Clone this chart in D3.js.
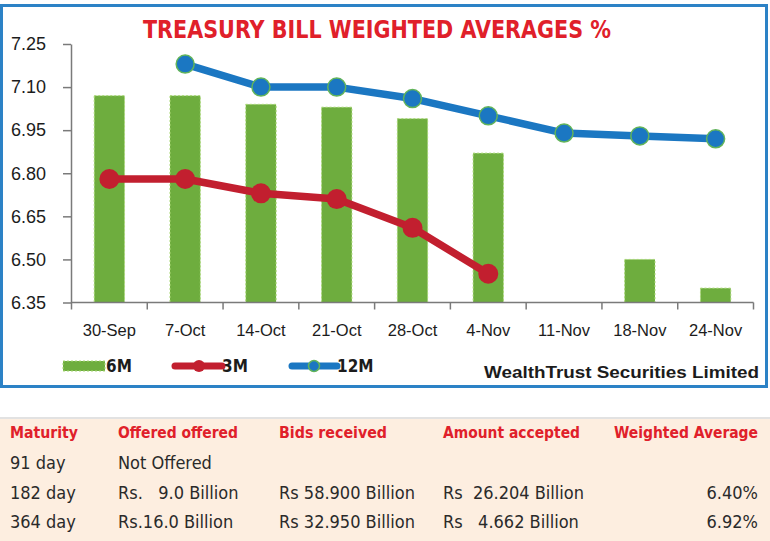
<!DOCTYPE html>
<html>
<head>
<meta charset="utf-8">
<script src="https://cdn.jsdelivr.net/npm/d3@7"></script>
<style>
  html, body { margin: 0; padding: 0; background: #fff; }
  svg { display: block; }
  text { white-space: pre; }
</style>
</head>
<body>
<svg id="chart" width="770" height="541"></svg>
<script>
// ---------- DATA ----------
const categories = ["30-Sep", "7-Oct", "14-Oct", "21-Oct", "28-Oct", "4-Nov", "11-Nov", "18-Nov", "24-Nov"];
const bills6M  = [7.07, 7.07, 7.04, 7.03, 6.99, 6.87, null, 6.50, 6.40];
const bills3M  = [6.78, 6.78, 6.73, 6.71, 6.61, 6.45, null, null, null];
const bills12M = [null, 7.18, 7.10, 7.10, 7.06, 7.00, 6.94, 6.93, 6.92];
const yTicks = [6.35, 6.50, 6.65, 6.80, 6.95, 7.10, 7.25];
const seriesNames = ["6M", "3M", "12M"];
const chartTitle = "TREASURY BILL WEIGHTED AVERAGES %";
const sourceText = "WealthTrust Securities Limited";

const tableHeader = ["Maturity", "Offered offered", "Bids received", "Amount accepted", "Weighted Average"];
const tableMaturity = ["91 day", "182 day", "364 day"];
const tableOffered  = ["Not Offered", "Rs.\u00A0\u00A0\u00A09.0 Billion", "Rs.16.0 Billion"];
const tableBids     = ["", "Rs 58.900 Billion", "Rs 32.950 Billion"];
const tableAccepted = ["", "Rs\u00A0\u00A026.204 Billion", "Rs\u00A0\u00A0\u00A04.662 Billion"];
const tableWeighted = ["", "6.40%", "6.92%"];

// ---------- STYLE ----------
const C = {
  green: "#6ead3e", greenEdge: "#a8d874",
  red: "#c21f2f", blue: "#1b77c2", blueEdge: "#62b45a",
  axis: "#7a7a7a", text: "#1c1c1c", frame: "#2c82c6",
  title: "#e0202a", peach: "#fdeee0"
};
const narrow = "'Liberation Sans Narrow', 'DejaVu Sans Condensed', 'Liberation Sans', Arial, sans-serif";
const sans = "'Liberation Sans', Arial, sans-serif";

const svg = d3.select("#chart");

// frame
svg.append("rect").attr("x", 1.5).attr("y", 5.5).attr("width", 765).attr("height", 381)
  .attr("fill", "#fff").attr("stroke", C.frame).attr("stroke-width", 3);

// scales
const x = d3.scaleBand().domain(categories).range([71.5, 753.5]).paddingInner(0.6).paddingOuter(0.3);
const y = d3.scaleLinear().domain([6.35, 7.25]).range([302.5, 44]);
const cx = d => x(d) + x.bandwidth() / 2;

// title
svg.append("text").attr("x", 377).attr("y", 38).attr("text-anchor", "middle")
  .attr("font-family", narrow).attr("font-weight", "bold").attr("font-size", 25)
  .attr("fill", C.title).attr("textLength", 468).attr("lengthAdjust", "spacingAndGlyphs")
  .text(chartTitle);

// y axis
const yAxis = svg.append("g").attr("transform", "translate(71,0)")
  .call(d3.axisLeft(y).tickValues(yTicks).tickSize(8).tickSizeOuter(0).tickPadding(17).tickFormat(d3.format(".2f")));
yAxis.select(".domain").attr("stroke", C.axis).attr("stroke-width", 1.5);
yAxis.selectAll(".tick line").attr("stroke", C.axis).attr("stroke-width", 1.5);
yAxis.selectAll(".tick text").attr("font-family", sans).attr("font-size", 18).attr("fill", C.text);

// bars
const barData = categories.map((c, i) => ({ c, v: bills6M[i] })).filter(d => d.v != null);
svg.append("g").selectAll("rect").data(barData).join("rect")
  .attr("x", d => x(d.c)).attr("width", x.bandwidth())
  .attr("y", d => y(d.v)).attr("height", d => y(6.35) - y(d.v))
  .attr("fill", C.green).attr("stroke", C.greenEdge).attr("stroke-width", 1)
  .attr("stroke-dasharray", "2,2");

// x axis
const xAxis = svg.append("g").attr("transform", "translate(0,302.5)");
xAxis.append("line").attr("x1", x.range()[0]).attr("x2", x.range()[1])
  .attr("stroke", C.axis).attr("stroke-width", 1.5);
const bounds = d3.range(categories.length + 1).map(i => x.range()[0] + i * x.step());
xAxis.selectAll("line.tk").data(bounds).join("line").attr("class", "tk")
  .attr("x1", d => d).attr("x2", d => d).attr("y1", 0).attr("y2", 7)
  .attr("stroke", C.axis).attr("stroke-width", 1.5);
xAxis.selectAll("text").data(categories).join("text")
  .attr("x", d => cx(d)).attr("y", 33).attr("text-anchor", "middle")
  .attr("font-family", sans).attr("font-size", 16.5).attr("fill", C.text).text(d => d);

// lines
function drawLine(vals, color, r, edge) {
  const pts = categories.map((c, i) => ({ c, v: vals[i] })).filter(d => d.v != null);
  const line = d3.line().x(d => cx(d.c)).y(d => y(d.v));
  svg.append("path").datum(pts).attr("d", line).attr("fill", "none")
    .attr("stroke", color).attr("stroke-width", 7.5).attr("stroke-linejoin", "round");
  svg.append("g").selectAll("circle").data(pts).join("circle")
    .attr("cx", d => cx(d.c)).attr("cy", d => y(d.v)).attr("r", r)
    .attr("fill", color).attr("stroke", edge || "none").attr("stroke-width", edge ? 1.5 : 0);
}
drawLine(bills3M, C.red, 10);
drawLine(bills12M, C.blue, 9, C.blueEdge);

// legend
const lg = svg.append("g").attr("font-family", narrow).attr("font-weight", "bold")
  .attr("font-size", 17).attr("fill", C.text);
lg.append("rect").attr("x", 63).attr("y", 361).attr("width", 42).attr("height", 10)
  .attr("fill", C.green).attr("stroke", C.greenEdge).attr("stroke-dasharray", "2,2");
lg.append("text").attr("x", 106).attr("y", 372).text(seriesNames[0]);
lg.append("line").attr("x1", 175).attr("x2", 222).attr("y1", 366).attr("y2", 366)
  .attr("stroke", C.red).attr("stroke-width", 7).attr("stroke-linecap", "round");
lg.append("circle").attr("cx", 199).attr("cy", 366).attr("r", 6).attr("fill", C.red);
lg.append("text").attr("x", 222).attr("y", 372).text(seriesNames[1]);
lg.append("line").attr("x1", 292).attr("x2", 337).attr("y1", 366).attr("y2", 366)
  .attr("stroke", C.blue).attr("stroke-width", 7).attr("stroke-linecap", "round");
lg.append("circle").attr("cx", 314).attr("cy", 366).attr("r", 5.5).attr("fill", C.blue)
  .attr("stroke", C.blueEdge).attr("stroke-width", 1.5);
lg.append("text").attr("x", 337).attr("y", 372).text(seriesNames[2]);
svg.append("text").attr("x", 484).attr("y", 378).attr("font-family", sans).attr("font-weight", "bold")
  .attr("font-size", 16).attr("fill", C.text).attr("textLength", 275).attr("lengthAdjust", "spacingAndGlyphs")
  .text(sourceText);

// table
svg.append("line").attr("x1", 0).attr("x2", 770).attr("y1", 418).attr("y2", 418)
  .attr("stroke", "#d9d9d9").attr("stroke-width", 1.5);
svg.append("rect").attr("x", 0).attr("y", 419).attr("width", 770).attr("height", 122).attr("fill", C.peach);

const colX = [10, 118, 279, 443, 614];
const headW = [68, 120, 108, 137, 144];
const tg = svg.append("g").attr("font-family", narrow).attr("font-size", 18);
tableHeader.forEach((h, i) => {
  tg.append("text").attr("x", colX[i]).attr("y", 438)
    .attr("font-weight", "bold").attr("fill", C.title).attr("font-size", 16)
    .attr("textLength", headW[i]).attr("lengthAdjust", "spacingAndGlyphs").text(h);
});
const rowsY = [469, 499, 528];
const cols = [tableMaturity, tableOffered, tableBids, tableAccepted, tableWeighted];
cols.forEach((col, ci) => {
  col.forEach((t, ri) => {
    if (!t) return;
    tg.append("text").attr("x", ci === 4 ? 758 : colX[ci]).attr("y", rowsY[ri])
      .attr("text-anchor", ci === 4 ? "end" : "start").attr("fill", "#2a2a2a").text(t);
  });
});
</script>
</body>
</html>
